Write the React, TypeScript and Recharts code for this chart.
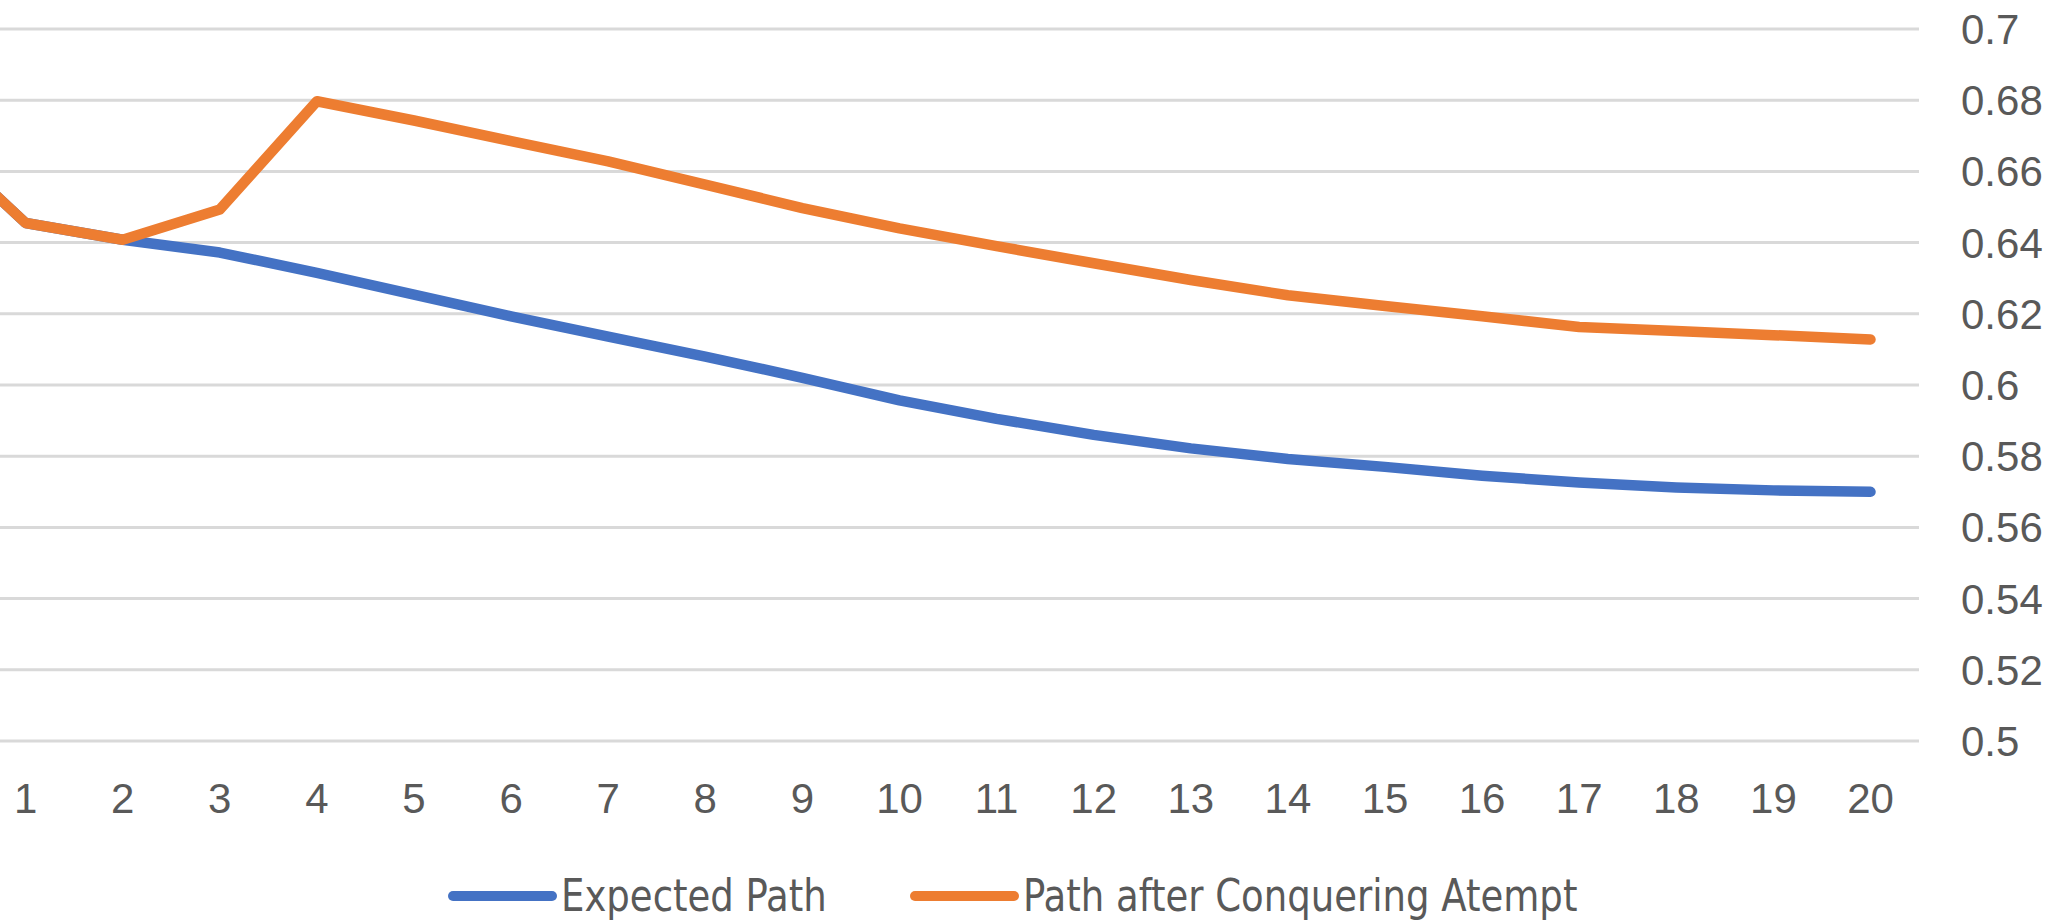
import React from 'react';
import { LineChart, Line, XAxis, YAxis, CartesianGrid } from 'recharts';

const categories = ['0', '1', '2', '3', '4', '5', '6', '7', '8', '9', '10', '11', '12', '13', '14', '15', '16', '17', '18', '19', '20'];
const expectedPath = [0.671, 0.6455, 0.6408, 0.6372, 0.6315, 0.6254, 0.6193, 0.6136, 0.608, 0.602, 0.5957, 0.5905, 0.586, 0.5822, 0.5792, 0.577, 0.5745, 0.5726, 0.5712, 0.5704, 0.57];
const conquerPath = [0.671, 0.6455, 0.6408, 0.6493, 0.6797, 0.6743, 0.6685, 0.6628, 0.6563, 0.6497, 0.644, 0.639, 0.6342, 0.6295, 0.6252, 0.6222, 0.6193, 0.6163, 0.6152, 0.614, 0.6128];
const yTicks = [0.5, 0.52, 0.54, 0.56, 0.58, 0.6, 0.62, 0.64, 0.66, 0.68, 0.7];

const SERIES = [
  { key: 'expected', name: 'Expected Path', color: '#4472C4' },
  { key: 'conquer', name: 'Path after Conquering Atempt', color: '#ED7D31' },
];

const data = categories.map((c, i) => ({
  cat: c,
  expected: expectedPath[i],
  conquer: conquerPath[i],
}));

const TEXT = '#595959';
const TICK_FONT = { fill: TEXT, fontSize: 42, fontFamily: '"Liberation Sans", Arial, sans-serif' };

export default function App() {
  return (
    <div style={{ position: 'fixed', left: 0, top: 0, width: 2054, height: 920, overflow: 'hidden', background: '#fff' }}>
      <LineChart
        width={2254}
        height={920}
        data={data}
        margin={{ top: 29, right: 0, bottom: 0, left: 80 }}
        style={{ position: 'absolute', left: -200, top: 0 }}
      >
        <CartesianGrid vertical={false} stroke="#D9D9D9" strokeWidth={3} />
        <XAxis
          dataKey="cat"
          height={179}
          padding={{ left: 48.5, right: 48.5 }}
          axisLine={false}
          tickLine={false}
          tickSize={0}
          tickMargin={42}
          interval={0}
          tick={TICK_FONT}
        />
        <YAxis
          orientation="right"
          width={135}
          domain={[0.5, 0.7]}
          ticks={yTicks}
          axisLine={false}
          tickLine={false}
          tickSize={0}
          tickMargin={42}
          tick={{ ...TICK_FONT, textAnchor: 'start' }}
        />
        {SERIES.map((s) => (
          <Line
            key={s.key}
            type="linear"
            dataKey={s.key}
            name={s.name}
            stroke={s.color}
            strokeWidth={10.5}
            strokeLinecap="round"
            strokeLinejoin="round"
            dot={false}
            isAnimationActive={false}
          />
        ))}
      </LineChart>

      {/* legend, drawn in html so it does not shift the plot */}
      <div
        style={{
          position: 'absolute',
          left: 448,
          top: 870,
          height: 52,
          display: 'flex',
          alignItems: 'center',
          fontFamily: '"DejaVu Sans Condensed", "Liberation Sans Narrow", sans-serif',
          fontSize: 45,
          lineHeight: '52px',
          color: TEXT,
          whiteSpace: 'nowrap',
        }}
      >
        {SERIES.map((s, i) => (
          <div key={s.key} style={{ display: 'flex', alignItems: 'center', width: i === 0 ? 462 : 'auto' }}>
            <span style={{ display: 'inline-block', width: 109, height: 10, borderRadius: 5, background: s.color, marginRight: 4, flex: 'none' }} />
            <span style={{ display: 'inline-block', transform: 'scaleX(0.915)', transformOrigin: 'left center' }}>{s.name}</span>
          </div>
        ))}
      </div>
    </div>
  );
}
